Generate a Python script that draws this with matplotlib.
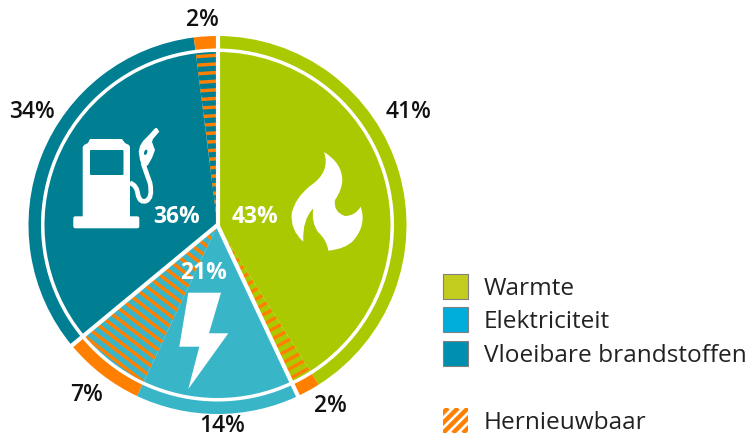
import numpy as np
import matplotlib
matplotlib.use("Agg")
import matplotlib.pyplot as plt
from matplotlib.patches import Circle, PathPatch, Rectangle, FancyBboxPatch, Ellipse
from matplotlib.path import Path

# share of each part, clockwise from the top
categories = ['Warmte', 'Elektriciteit', 'Vloeibare brandstoffen']
outer_fossil = [41, 14, 34]
outer_renewable = [2, 7, 2]
inner_totals = [43, 21, 36]
outer_labels = ['41%', '2%', '14%', '7%', '34%', '2%']
inner_labels = ['43%', '21%', '36%']
legend_extra = 'Hernieuwbaar'

pie_colors = ['#AAC900', '#39B5C8', '#007E92']
legend_colors = ['#C3CD1F', '#00AEDC', '#008FAE']
orange = '#FF8000'
text_col = '#222222'

plt.rcParams['font.family'] = ['Open Sans', 'DejaVu Sans']

W, H = 751, 438
CX, CY = 217.5, 225
R_OUT, R_GAP, R_IN = 189, 176.5, 173


def py(y):
    return H - y


def pt(points):
    return [(x, py(y)) for x, y in points]


fig = plt.figure(figsize=(W / 100, H / 100), dpi=100)
ax = fig.add_axes([0, 0, 1, 1])
center = (CX, py(CY))

# outer ring
ring_vals = []
ring_cols = []
for f, r, c in zip(outer_fossil, outer_renewable, pie_colors):
    ring_vals += [f, r]
    ring_cols += [c, orange]
ax.pie(ring_vals, colors=ring_cols, radius=R_OUT, center=center, startangle=90,
       counterclock=False, frame=True, wedgeprops={'linewidth': 0})
ax.add_patch(Circle(center, R_GAP, fc='white', ec='none', zorder=2))

# inner pie, split so the renewable part can be striped
inner_vals = []
inner_cols = []
for f, r, c in zip(outer_fossil, outer_renewable, pie_colors):
    inner_vals += [f, r]
    inner_cols += [c, c]
wedges, _ = ax.pie(inner_vals, colors=inner_cols, radius=R_IN, center=center, startangle=90,
                   counterclock=False, frame=True, wedgeprops={'linewidth': 0, 'zorder': 3})

# stripes across the renewable wedges
total = float(sum(inner_vals))
done = 0
for i, v in enumerate(inner_vals):
    if i % 2 == 1:
        mid = np.radians((done + v / 2) / total * 360)
        dx, dy = np.sin(mid), np.cos(mid)
        for d in np.arange(6, R_IN + 8, 8.6):
            mx, my = center[0] + dx * d, center[1] + dy * d
            line, = ax.plot([mx - dy * 90, mx + dy * 90], [my + dx * 90, my - dx * 90],
                            color=orange, lw=2.5, solid_capstyle='butt', zorder=4)
            line.set_clip_path(wedges[i])
    done += v

# white separators between the three parts
done = 0
for f, r in zip(outer_fossil, outer_renewable):
    a = np.radians(done / total * 360)
    ax.plot([center[0], center[0] + np.sin(a) * (R_OUT + 2)],
            [center[1], center[1] + np.cos(a) * (R_OUT + 2)],
            color='white', lw=3, solid_capstyle='butt', zorder=5)
    done += f + r

# flame
M, Q = Path.MOVETO, Path.CURVE3
flame = pt([(324, 152), (342, 163), (342.3, 180), (342, 190), (335, 200), (333, 212), (345, 216),
            (355, 216), (360.7, 206.7), (367, 225), (353, 241), (345, 249), (328.3, 250.7),
            (327, 240), (318, 232), (311, 222), (313.3, 208.3), (302, 220), (303.3, 241.7),
            (290, 230), (291.7, 213.3), (295, 198), (310, 186), (331, 172), (324, 152)])
ax.add_patch(PathPatch(Path(flame, [M] + [Q] * (len(flame) - 1)), fc='white', ec='none', zorder=6))

# bolt
bolt = pt([(188.3, 292.7), (221, 292.7), (209, 333.3), (228.3, 333.3), (188.3, 389),
           (199.3, 346.7), (179.3, 346.7)])
ax.fill(*zip(*bolt), color='white', lw=0, zorder=6)

# fuel pump
ax.add_patch(FancyBboxPatch((75.3, py(226.3)), 62, 8, boxstyle='round,pad=2', fc='white', ec='none', zorder=6))
body = pt([(82.7, 218), (82.7, 147), (84, 145), (88, 143), (90, 139), (122, 139), (125, 143), (129, 145), (130, 147), (130, 218)])
ax.fill(*zip(*body), color='white', lw=0, zorder=6)
ax.add_patch(FancyBboxPatch((91, py(174)), 31.5, 23, boxstyle='round,pad=1', fc=pie_colors[2], ec='none', zorder=7))
hose = pt([(130, 183), (137, 185), (138, 195), (140, 203), (146, 201), (153, 198), (150, 183), (146, 172), (143, 163)])
ax.add_patch(PathPatch(Path(hose, [M] + [Q] * 8), fc='none', ec='white', lw=3.4, zorder=6))
nozzle = [(138.7, 151.7), (140, 146), (143, 141), (148, 136), (155, 128.3), (157, 128), (159.3, 131.7),
          (153, 139), (152, 142), (155, 150), (152, 158), (148, 165), (143, 168), (140, 160)]
ax.fill(*zip(*pt(nozzle)), color='white', lw=0, zorder=6)
ax.add_patch(Ellipse((145.7, py(152.3)), 3, 5.5, angle=-20, fc=pie_colors[2], ec='none', zorder=7))

# percentages
outer_pos = [(409, 112), (330, 406), (222, 426), (87, 395), (32, 112), (202, 20)]
for (x, y), s in zip(outer_pos, outer_labels):
    ax.text(x, py(y), s, fontsize=16.5, fontweight='semibold', color='#111111', ha='center', va='center', zorder=8)
inner_pos = [(255, 217), (204, 273), (177, 217)]
for (x, y), s in zip(inner_pos, inner_labels):
    ax.text(x, py(y), s, fontsize=16.5, fontweight='bold', color='white', ha='center', va='center', zorder=8)

# legend
for y, c, s in zip([273.5, 307, 340.5], legend_colors, categories):
    ax.add_patch(Rectangle((443, py(y + 25)), 25, 25, fc=c, ec='#808080', lw=0.8, zorder=6))
    ax.text(484, py(y + 15.5), s, fontsize=17.6, color=text_col, ha='left', va='center', zorder=8)
box = Rectangle((443, py(433)), 25, 25, fc='none', ec='none')
ax.add_patch(box)
for k in range(-2, 5):
    x0 = 443 + k * 10
    line, = ax.plot([x0, x0 + 25], [py(433), py(408)], color=orange, lw=3.2, solid_capstyle='butt', zorder=6)
    line.set_clip_path(box)
ax.text(484, py(423), legend_extra, fontsize=17.6, color=text_col, ha='left', va='center', zorder=8)

ax.set_xlim(0, W)
ax.set_ylim(0, H)
ax.set_aspect('equal')
ax.axis('off')
fig.savefig('out.png', dpi=100)
